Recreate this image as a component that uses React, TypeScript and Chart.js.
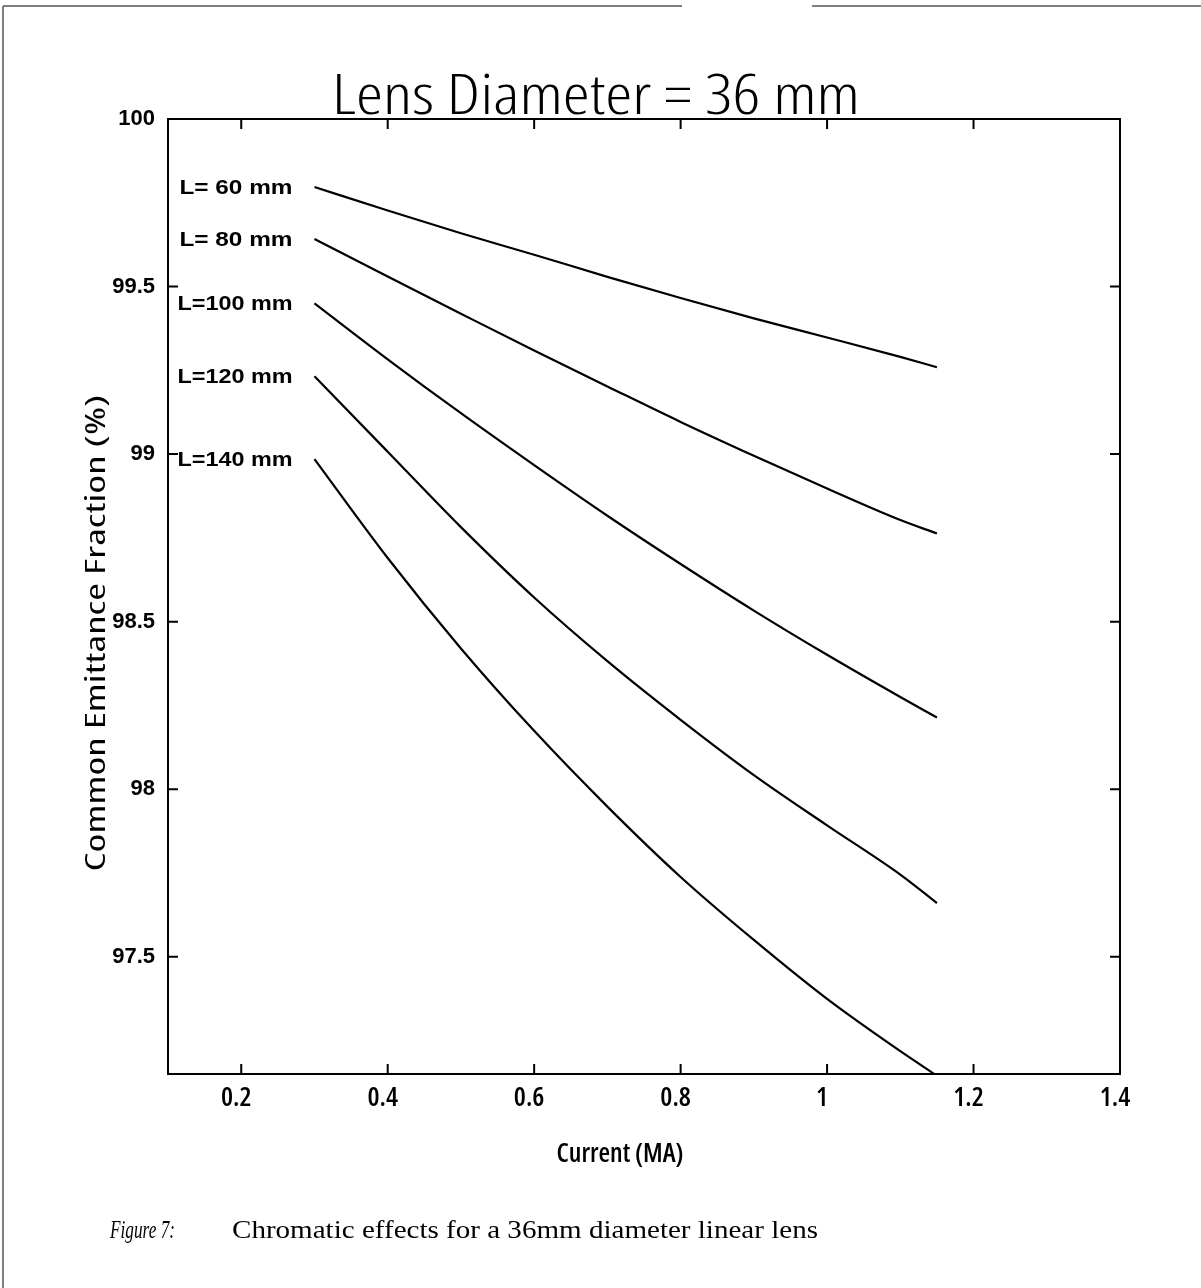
import React, { useEffect, useRef } from "react";
import { Chart, registerables } from "chart.js";

Chart.register(...registerables);

// ---- data ----
const CURRENT = [0.3, 0.4, 0.5, 0.6, 0.7, 0.8, 0.9, 1.0, 1.1, 1.15];
const L60 = [99.797, 99.727, 99.659, 99.595, 99.529, 99.466, 99.405, 99.348, 99.29, 99.259];
const L80 = [99.642, 99.53, 99.419, 99.309, 99.202, 99.096, 98.995, 98.897, 98.803, 98.763];
const L100 = [99.45, 99.283, 99.122, 98.967, 98.816, 98.672, 98.533, 98.401, 98.275, 98.214];
const L120 = [99.232, 99.007, 98.782, 98.572, 98.382, 98.207, 98.042, 97.892, 97.745, 97.66];
const L140 = [98.985, 98.69, 98.42, 98.174, 97.948, 97.738, 97.55, 97.374, 97.218, 97.145];
const SERIES_LABELS = ["L= 60 mm", "L= 80 mm", "L=100 mm", "L=120 mm", "L=140 mm"];
const X_TICKS = [0.2, 0.4, 0.6, 0.8, 1, 1.2, 1.4];
const Y_TICKS = [97.5, 98, 98.5, 99, 99.5, 100];
const TITLE = "Lens Diameter = 36 mm";
const X_TITLE = "Current (MA)";
const Y_TITLE = "Common Emittance Fraction (%)";
const CAPTION_LEAD = "Figure 7:";
const CAPTION_TEXT = "Chromatic effects for a 36mm diameter linear lens";

const SANS = "'Liberation Sans', Arial, sans-serif";
const COND = "'Open Sans', 'Liberation Sans', sans-serif";
const SERIF = "'Liberation Serif', 'DejaVu Serif', serif";

function fitText(
  ctx: CanvasRenderingContext2D,
  text: string,
  x: number,
  y: number,
  font: string,
  align: "left" | "right" | "center",
  targetWidth: number | null,
  sx = 1,
  rotate = 0
) {
  ctx.save();
  ctx.font = font;
  ctx.fillStyle = "#000";
  ctx.textBaseline = "middle";
  ctx.textAlign = align;
  let k = sx;
  if (targetWidth) k = targetWidth / ctx.measureText(text).width;
  ctx.translate(x, y);
  if (rotate) ctx.rotate(rotate);
  ctx.scale(k, 1);
  ctx.fillText(text, 0, 0);
  ctx.restore();
}

const decorPlugin = {
  id: "decor",
  afterDraw(chart: any) {
    const ctx: CanvasRenderingContext2D = chart.ctx;
    const { left, right, top, bottom } = chart.chartArea;
    const xs = chart.scales.x;
    const ys = chart.scales.y;
    ctx.save();
    ctx.strokeStyle = "#000";
    ctx.lineWidth = 2;
    ctx.strokeRect(left, top, right - left, bottom - top);
    ctx.beginPath();
    X_TICKS.forEach((v) => {
      const px = xs.getPixelForValue(v);
      ctx.moveTo(px, bottom);
      ctx.lineTo(px, bottom - 10);
      ctx.moveTo(px, top);
      ctx.lineTo(px, top + 10);
    });
    Y_TICKS.forEach((v) => {
      const py = ys.getPixelForValue(v);
      ctx.moveTo(left, py);
      ctx.lineTo(left + 10, py);
      ctx.moveTo(right, py);
      ctx.lineTo(right - 10, py);
    });
    ctx.stroke();

    // page border fragments
    ctx.strokeStyle = "#555";
    ctx.lineWidth = 1.5;
    ctx.beginPath();
    ctx.moveTo(3, 6);
    ctx.lineTo(3, 1288);
    ctx.moveTo(3, 6);
    ctx.lineTo(682, 6);
    ctx.moveTo(812, 6);
    ctx.lineTo(1201, 6);
    ctx.stroke();
    ctx.restore();

    // curve labels next to the start of each curve
    const series = [L60, L80, L100, L120, L140];
    series.forEach((vals, i) => {
      const px = xs.getPixelForValue(CURRENT[0]) - 22;
      const py = ys.getPixelForValue(vals[0]) + 1;
      const w = SERIES_LABELS[i].indexOf(" ") === 2 ? 113 : 115;
      fitText(ctx, SERIES_LABELS[i], px, py, `bold 21px ${SANS}`, "right", w);
    });

    // title
    fitText(ctx, TITLE, 596, 98, `extra-condensed 300 56px ${COND}`, "center", 528);

    // axis titles
    fitText(ctx, X_TITLE, 620, 1154, `extra-condensed 600 27px ${COND}`, "center", 127);
    fitText(ctx, Y_TITLE, 97, 633, `extra-condensed 28px ${COND}`, "center", 477, 1, -Math.PI / 2);

    // caption
    fitText(ctx, CAPTION_LEAD, 110, 1231, `italic 26px ${SERIF}`, "left", 65);
    fitText(ctx, CAPTION_TEXT, 232, 1231, `26px ${SERIF}`, "left", 586);
  },
};

export default function App() {
  const ref = useRef<HTMLCanvasElement | null>(null);
  useEffect(() => {
    document.body.style.margin = "0";
    const canvas = ref.current!;
    const mk = (vals: number[]) => CURRENT.map((x, i) => ({ x, y: vals[i] }));
    const fmt = (v: any) => String(Number(v));
    const chart = new Chart(canvas, {
      type: "line",
      data: {
        datasets: [L60, L80, L100, L120, L140].map((vals, i) => ({
          label: SERIES_LABELS[i],
          data: mk(vals),
          borderColor: "#000",
          borderWidth: 2.2,
          pointRadius: 0,
          fill: false,
          cubicInterpolationMode: "monotone" as const,
        })),
      },
      options: {
        animation: false,
        responsive: false,
        maintainAspectRatio: false,
        layout: { padding: { top: 119, right: 81, left: 0, bottom: 0 } },
        plugins: {
          legend: { display: false },
          tooltip: { enabled: false },
          title: { display: false },
        },
        scales: {
          x: {
            type: "linear",
            min: 0.1,
            max: 1.4,
            afterBuildTicks: (s: any) => {
              s.ticks = X_TICKS.map((v) => ({ value: v }));
            },
            afterFit: (s: any) => {
              s.height = 1288 - 1074;
            },
            grid: { display: false, drawTicks: false },
            border: { display: false },
            ticks: {
              padding: 8,
              labelOffset: -5,
              color: "#000",
              font: { family: COND, size: 27, weight: "extra-condensed 600" as any },
              maxRotation: 0,
              autoSkip: false,
              callback: fmt,
            },
          },
          y: {
            type: "linear",
            min: 97.15,
            max: 100,
            afterBuildTicks: (s: any) => {
              s.ticks = Y_TICKS.map((v) => ({ value: v }));
            },
            afterFit: (s: any) => {
              s.width = 168;
            },
            grid: { display: false, drawTicks: false },
            border: { display: false },
            ticks: {
              padding: 13,
              color: "#000",
              font: { family: SANS, size: 22, weight: "bold" },
              autoSkip: false,
              callback: fmt,
            },
          },
        },
      },
      plugins: [decorPlugin],
    });
    return () => chart.destroy();
  }, []);
  return (
    <div style={{ width: 1201, height: 1288, background: "#fff" }}>
      <canvas ref={ref} width={1201} height={1288} style={{ display: "block" }} />
    </div>
  );
}
